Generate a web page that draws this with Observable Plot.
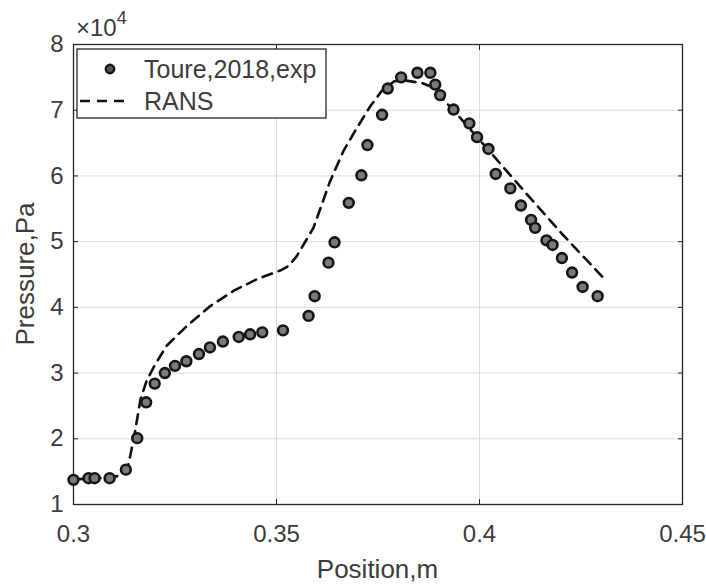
<!DOCTYPE html>
<html>
<head>
<meta charset="utf-8">
<script src="https://cdn.jsdelivr.net/npm/d3@7"></script>
<script src="https://cdn.jsdelivr.net/npm/@observablehq/plot@0.6"></script>
<style>
  html, body { margin: 0; padding: 0; background: #fff; }
  #chart svg { display: block; }
</style>
</head>
<body>
<div id="chart"></div>
<script>
// Experimental data (Toure, 2018): position in m, pressure in Pa
const expX = [0.300,0.3037,0.3052,0.3089,0.3129,0.3157,0.3179,0.3200,0.3225,0.3250,0.3278,0.3309,0.3336,0.3368,0.3407,0.3435,0.3465,0.3516,0.3579,0.3594,0.3628,0.3643,0.3678,0.3709,0.3724,0.3760,0.3774,0.3807,0.3847,0.3879,0.3891,0.3903,0.3936,0.3975,0.3994,0.4022,0.4040,0.4076,0.4102,0.4127,0.4137,0.4165,0.4180,0.4203,0.4228,0.4254,0.4291];
const expP = [13750,14000,14000,14000,15300,20100,25550,28400,30000,31100,31800,32900,33900,34800,35500,35900,36200,36500,38700,41700,46800,49900,55900,60100,64700,69300,73300,75000,75700,75700,73900,72300,70100,68000,65900,64100,60300,58100,55500,53300,52100,50200,49500,47500,45300,43100,41700];

// RANS simulation curve
const ransX = [0.300,0.305,0.309,0.3115,0.3135,0.3150,0.3165,0.3180,0.3200,0.3230,0.3280,0.3337,0.3394,0.3452,0.3509,0.3530,0.3550,0.3591,0.3632,0.3665,0.3698,0.3731,0.3760,0.3790,0.3820,0.3860,0.3880,0.3936,0.4031,0.4117,0.4203,0.4305];
const ransP = [13800,14000,14100,14400,16000,20500,26000,28800,31200,34200,37200,40200,42500,44300,45600,46300,47800,52100,59200,63800,67300,70600,73000,74400,74500,74100,73600,70000,63300,57200,51200,44500];

// Axis ticks
const xTicks = [0.3, 0.35, 0.4, 0.45];
const xTickLabels = ["0.3", "0.35", "0.4", "0.45"];
const yTicks = [10000, 20000, 30000, 40000, 50000, 60000, 70000, 80000];
const yTickLabels = ["1","2","3","4","5","6","7","8"];

const seriesNames = ["Toure,2018,exp", "RANS"];
const xLabel = "Position,m";
const yLabel = "Pressure,Pa";

const expData = expX.map((x, i) => ({x, p: expP[i]}));
const ransData = ransX.map((x, i) => ({x, p: ransP[i]}));

const textColor = "#3c3c3c";
const axisColor = "#262626";
const font = "Liberation Sans, Arial, Helvetica, sans-serif";
const blank = () => "";

const chart = Plot.plot({
  width: 706,
  height: 588,
  marginLeft: 73,
  marginRight: 24,
  marginTop: 44,
  marginBottom: 84,
  style: {fontFamily: font, fontSize: "24px", color: textColor, background: "#fff"},
  x: {domain: [0.3, 0.45], ticks: xTicks},
  y: {domain: [10000, 80000], ticks: yTicks},
  marks: [
    Plot.gridX(xTicks, {stroke: "#dcdcdc", strokeOpacity: 1, strokeWidth: 1}),
    Plot.gridY(yTicks, {stroke: "#dcdcdc", strokeOpacity: 1, strokeWidth: 1}),
    // tick labels
    Plot.axisX(xTicks, {anchor: "bottom", tickSize: 0, tickPadding: 20, fontSize: 24, fill: textColor, label: null, tickFormat: (d, i) => xTickLabels[i]}),
    Plot.axisY(yTicks, {anchor: "left", tickSize: 0, tickPadding: 10, fontSize: 24, fill: textColor, label: null, tickFormat: (d, i) => yTickLabels[i]}),
    // inward ticks on all four sides
    Plot.axisX(xTicks, {anchor: "bottom", tickSize: -5, tickFormat: blank, stroke: axisColor, label: null}),
    Plot.axisX(xTicks, {anchor: "top", tickSize: -5, tickFormat: blank, stroke: axisColor, label: null}),
    Plot.axisY(yTicks, {anchor: "left", tickSize: -5, tickFormat: blank, stroke: axisColor, label: null}),
    Plot.axisY(yTicks, {anchor: "right", tickSize: -5, tickFormat: blank, stroke: axisColor, label: null}),
    Plot.frame({stroke: axisColor, strokeWidth: 1.3}),
    Plot.line(ransData, {x: "x", y: "p", stroke: "#111", strokeWidth: 2.6, strokeDasharray: "10,7", curve: "linear"}),
    Plot.dot(expData, {x: "x", y: "p", r: 4.9, fill: "#7a7a7a", stroke: "#151515", strokeWidth: 2.6})
  ]
});

const svg = d3.select(chart);

// Axis titles
svg.append("text")
  .attr("x", (73 + 682) / 2).attr("y", 578)
  .attr("text-anchor", "middle")
  .attr("font-family", font).attr("font-size", 26).attr("fill", textColor)
  .text(xLabel);
svg.append("text")
  .attr("transform", `translate(34,${(44 + 504) / 2}) rotate(-90)`)
  .attr("text-anchor", "middle")
  .attr("font-family", font).attr("font-size", 26).attr("fill", textColor)
  .text(yLabel);

// Exponent label
const ex = svg.append("text")
  .attr("x", 76).attr("y", 36)
  .attr("text-anchor", "start")
  .attr("font-family", font).attr("font-size", 24).attr("fill", textColor);
ex.append("tspan").text("\u00d710");
ex.append("tspan").attr("dy", -12).attr("font-size", 18).text("4");

// Legend box
const lg = svg.append("g");
lg.append("rect")
  .attr("x", 77).attr("y", 49).attr("width", 249).attr("height", 69)
  .attr("fill", "#fff").attr("stroke", axisColor).attr("stroke-width", 1.3);
lg.append("circle")
  .attr("cx", 110).attr("cy", 69).attr("r", 4.2)
  .attr("fill", "#555").attr("stroke", "#151515").attr("stroke-width", 2.4);
lg.append("text")
  .attr("x", 144).attr("y", 78)
  .attr("text-anchor", "start")
  .attr("font-family", font).attr("font-size", 25).attr("fill", textColor)
  .text(seriesNames[0]);
lg.append("line")
  .attr("x1", 80).attr("x2", 126).attr("y1", 101).attr("y2", 101)
  .attr("stroke", "#111").attr("stroke-width", 2.6).attr("stroke-dasharray", "10,7");
lg.append("text")
  .attr("x", 144).attr("y", 110)
  .attr("text-anchor", "start")
  .attr("font-family", font).attr("font-size", 25).attr("fill", textColor)
  .text(seriesNames[1]);

document.getElementById("chart").appendChild(chart);
</script>
</body>
</html>
